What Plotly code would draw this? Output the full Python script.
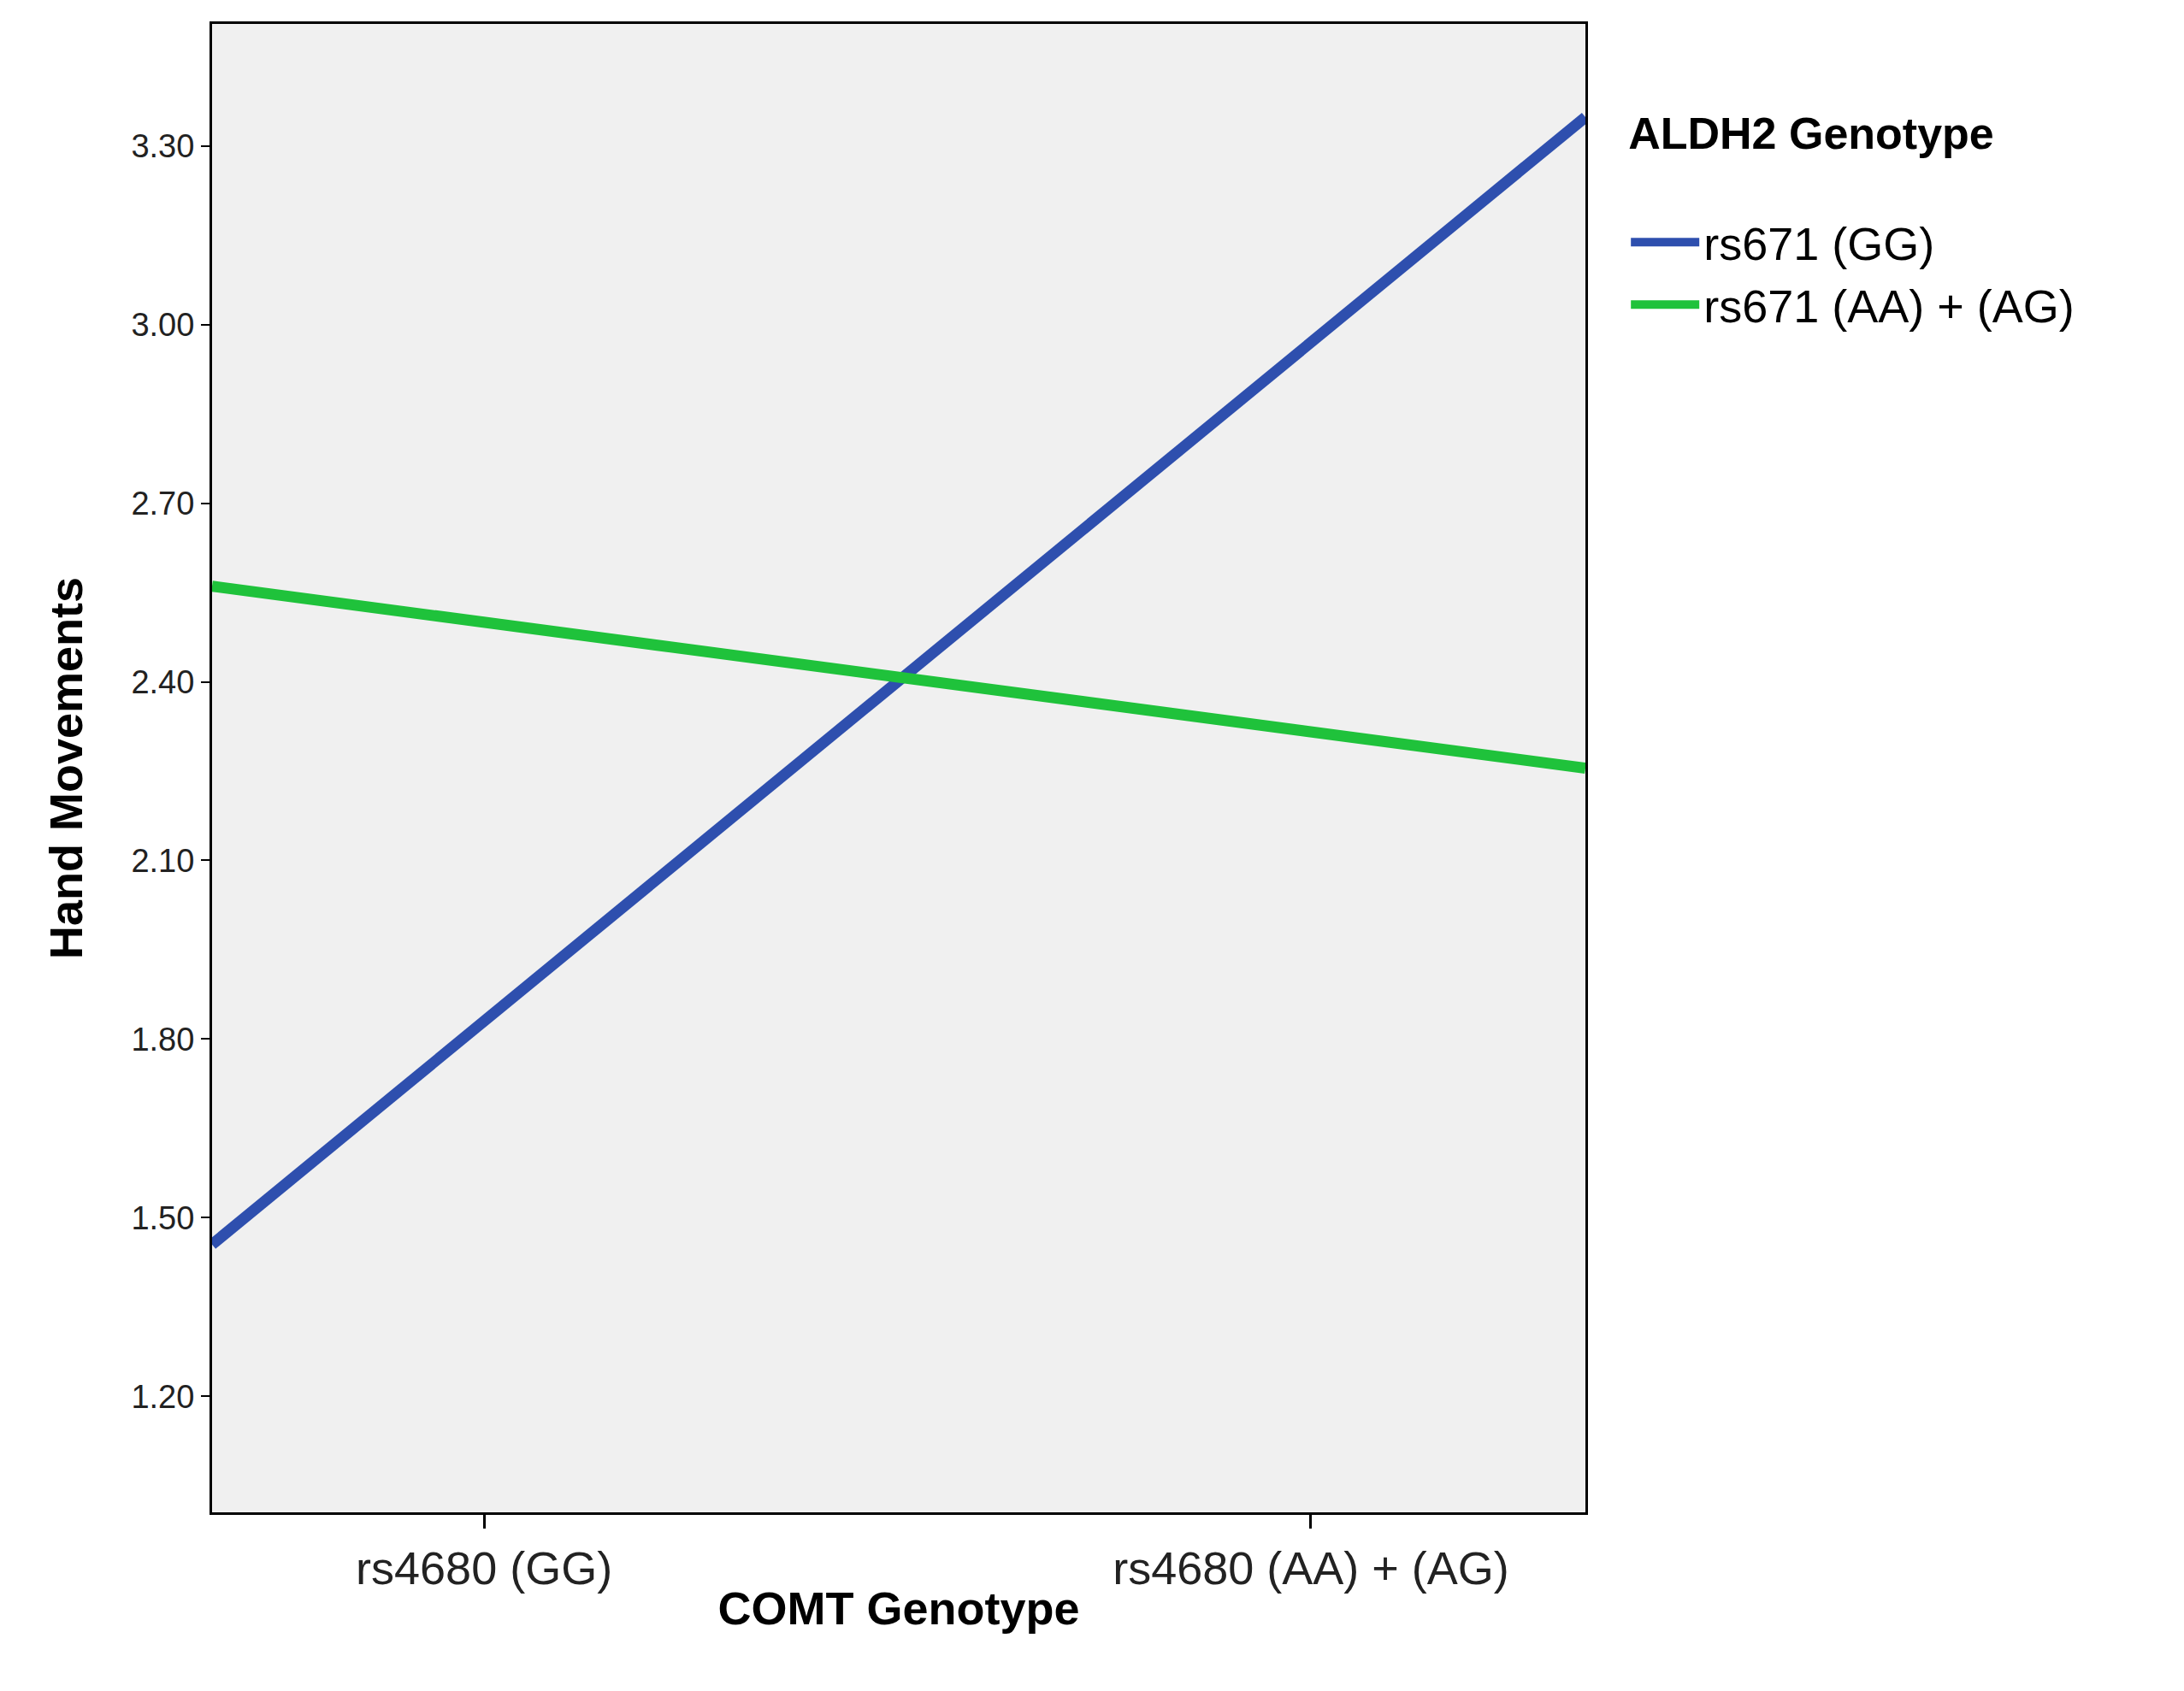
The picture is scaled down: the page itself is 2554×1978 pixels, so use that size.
import plotly.graph_objects as go

categories = ["rs4680 (GG)", "rs4680 (AA) + (AG)"]
series_names = ["rs671 (GG)", "rs671 (AA) + (AG)"]
blue_vals = [1.83, 2.97]
green_vals = [2.50, 2.316]
y_ticks = [1.20, 1.50, 1.80, 2.10, 2.40, 2.70, 3.00, 3.30]

x_pos = [0, 1]
x_range = [-0.329, 1.332]

def extend(vals):
    # SPSS draws the line through the category means across the whole plot width
    slope = (vals[1] - vals[0]) / (x_pos[1] - x_pos[0])
    xs = [x_range[0], x_pos[0], x_pos[1], x_range[1]]
    ys = [vals[0] + slope * (x - x_pos[0]) for x in xs]
    return xs, ys

fig = go.Figure()
for name, vals, col in [(series_names[0], blue_vals, "#2e4fae"), (series_names[1], green_vals, "#1fc23b")]:
    xs, ys = extend(vals)
    fig.add_trace(go.Scatter(x=xs, y=ys, mode="lines", name=name,
                             line=dict(color=col, width=13), cliponaxis=True))

font = "Liberation Sans, Arial, sans-serif"
fig.update_layout(
    width=2554, height=1978,
    paper_bgcolor="white", plot_bgcolor="#f0f0f0",
    margin=dict(l=240, r=708, t=20, b=217),
    font=dict(family=font, color="black"),
    showlegend=True,
    legend=dict(x=1.03, y=0.955, xanchor="left", yanchor="top",
                title=dict(text="<b>ALDH2 Genotype</b><br> ", font=dict(size=52)),
                font=dict(size=54), bgcolor="rgba(0,0,0,0)", itemwidth=80, tracegroupgap=10),
    xaxis=dict(range=x_range, tickvals=x_pos, ticktext=categories,
               ticks="outside", ticklen=16, tickwidth=3, tickcolor="black",
               tickfont=dict(size=54, color="#222"), showgrid=False, zeroline=False,
               showline=True, linecolor="black", linewidth=3, mirror=True,
               title=dict(text="<b>COMT Genotype</b>", font=dict(size=54), standoff=0)),
    yaxis=dict(range=[1.005, 3.505], tickvals=y_ticks, ticktext=[f"{v:.2f}" for v in y_ticks],
               ticks="outside", ticklen=10, tickwidth=2, tickcolor="black",
               tickfont=dict(size=38, color="#222"), showgrid=False, zeroline=False,
               showline=True, linecolor="black", linewidth=3, mirror=True,
               title=dict(text="<b>Hand Movements</b>", font=dict(size=54), standoff=40)),
)
fig.write_html("out.html")
